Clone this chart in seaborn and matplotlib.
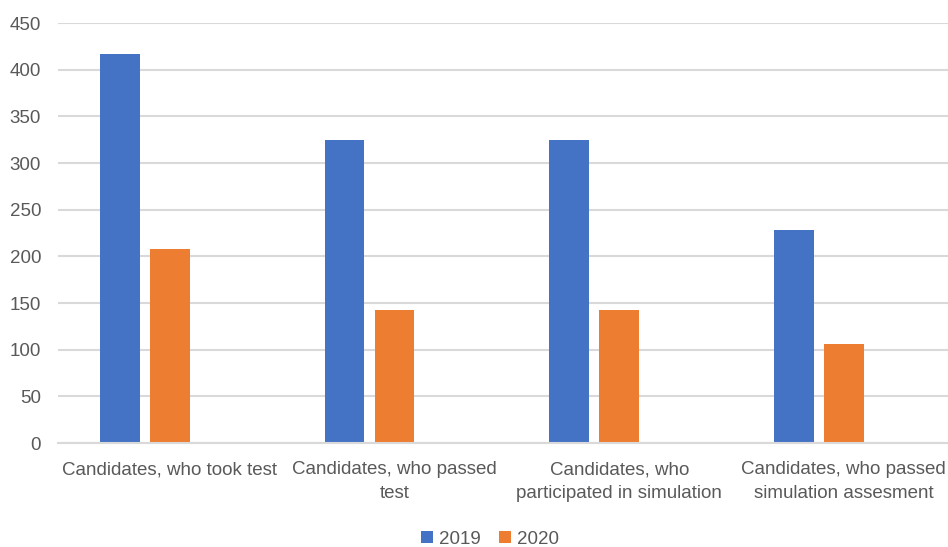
import matplotlib
matplotlib.use("Agg")
import matplotlib.pyplot as plt
import seaborn as sns
import pandas as pd
from matplotlib.patches import Patch

categories = [
    "Candidates, who took test",
    "Candidates, who passed\ntest",
    "Candidates, who\nparticipated in simulation",
    "Candidates, who passed\nsimulation assesment",
]
values_2019 = [417, 325, 325, 228]
values_2020 = [208, 143, 143, 106]
series = ["2019", "2020"]
y_ticks = [0, 50, 100, 150, 200, 250, 300, 350, 400, 450]

colors = {"2019": "#4472C4", "2020": "#ED7D31", "": "#FFFFFF"}
text_color = "#595959"
grid_color = "#D9D9D9"

df = pd.DataFrame({
    "category": categories * 2,
    "year": ["2019"] * 4 + ["2020"] * 4,
    "count": values_2019 + values_2020,
})

sns.set_theme(style="white")
plt.rcParams["font.family"] = ["Liberation Sans", "DejaVu Sans"]

fig = plt.figure(figsize=(9.48, 5.47), dpi=100)
ax = fig.add_axes([57.7 / 948, 104 / 547, 898.4 / 948, 420 / 547])

# three slots per category, the last one left empty
sns.barplot(
    data=df, x="category", y="count", hue="year",
    hue_order=["2019", "2020", ""], order=categories,
    palette=colors, saturation=1, width=0.668, gap=0.21, edgecolor="none",
    legend=False, ax=ax,
)

ax.set_xlim(-0.5, len(categories) - 0.5)
ax.set_ylim(0, 450)
ax.set_yticks(y_ticks)
ax.yaxis.grid(True, color=grid_color, linewidth=1.5)
ax.set_axisbelow(True)
for side in ["top", "right", "left"]:
    ax.spines[side].set_visible(False)
ax.spines["bottom"].set_color(grid_color)
ax.spines["bottom"].set_linewidth(1.5)

ax.tick_params(axis="y", length=0, pad=12, labelsize=13.5, labelcolor=text_color)
ax.tick_params(axis="x", length=0, pad=13, labelsize=13.5, labelcolor=text_color)
for lbl in ax.get_xticklabels():
    lbl.set_linespacing(1.55)
    lbl.set_verticalalignment("top")
ax.set_xlabel("")
ax.set_ylabel("")

handles = [Patch(facecolor=colors[s], edgecolor="none", label=s) for s in series]
fig.legend(
    handles=handles, loc="center", bbox_to_anchor=(490 / 948, 1 - 539 / 547),
    ncol=2, frameon=False, fontsize=13.5, labelcolor=text_color,
    handlelength=0.65, handleheight=0.65, handletextpad=0.3, columnspacing=1.0,
)

fig.savefig("out.png", dpi=100, facecolor="white")
